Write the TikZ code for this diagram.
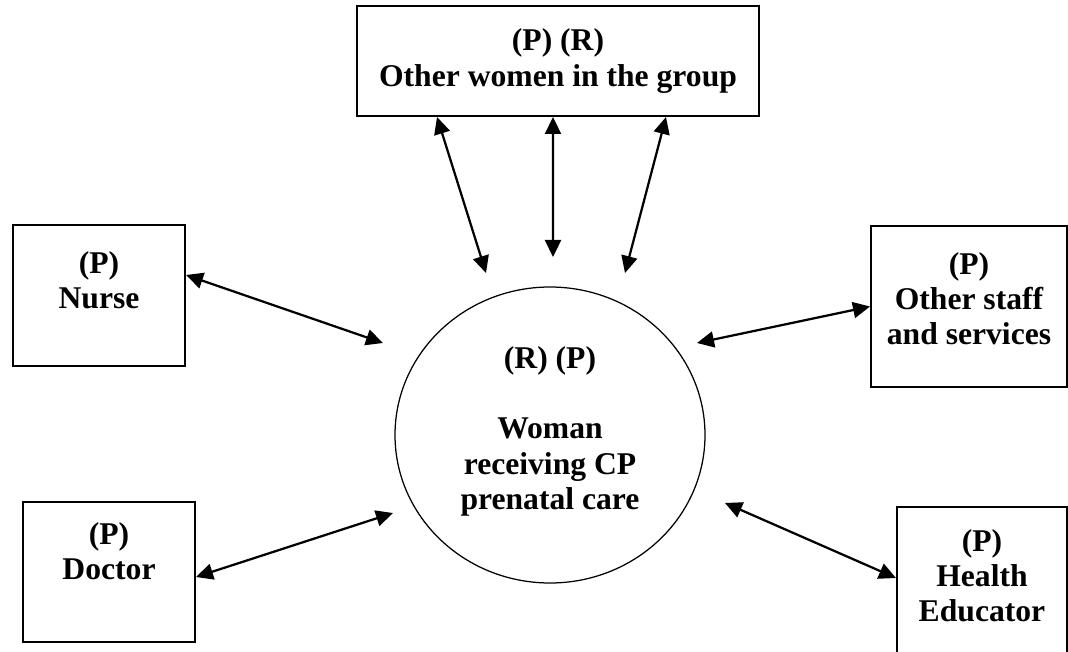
\documentclass[tikz,border=0pt]{standalone}
\usepackage{fontspec}
\setmainfont{Liberation Serif}
\usetikzlibrary{arrows.meta,positioning,shapes.geometric}
\tikzset{
  party/.style={rectangle, draw=black, line width=0.4mm},
  hub/.style  ={ellipse, draw=black, line width=0.25mm,
                minimum width=62mm, minimum height=59.2mm},
  lbl/.style  ={align=center, inner sep=0pt, font=\fontsize{18}{20}\selectfont\bfseries},
  ar/.style   ={{Triangle[length=3.4mm,width=3.2mm]}-{Triangle[length=3.4mm,width=3.2mm]},
                line width=0.45mm},
}

\begin{document}
\begin{tikzpicture}[x=0.2mm, y=-0.2mm]
\useasboundingbox (0,0) rectangle (1068,652);

\node[party, lbl, minimum width=80.4mm, minimum height=22mm] (group) at (558,61)
  {(P) (R)\\Other women in the group};

\node[hub] (woman) at (550,435) {};
\node[lbl, below=12mm of woman.north] (womantxt)
  {(R) (P)\\[20pt]Woman\\receiving CP\\prenatal care};

\node[party, minimum width=34.4mm, minimum height=28.2mm] (nurse) at (99,295.5) {};
\node[lbl, below=5.4mm of nurse.north] (nursetxt) {(P)\\Nurse};

\node[party, minimum width=34.4mm, minimum height=28mm] (doctor) at (109,572) {};
\node[lbl, below=4.2mm of doctor.north] (doctortxt) {(P)\\Doctor};

\node[party, minimum width=39.2mm, minimum height=32.2mm] (staff) at (969,306.5) {};
\node[lbl, below=5.4mm of staff.north] (stafftxt) {(P)\\Other staff\\and services};

\node[party, minimum width=34mm, minimum height=32.6mm] (educ) at (982,588.5) {};
\node[lbl, below=4.6mm of educ.north] (eductxt) {(P)\\Health\\Educator};

% free ends near the circle
\coordinate (wgl) at (486,273);
\coordinate (wgm) at (553,257);
\coordinate (wgr) at (625,273);
\coordinate (wn)  at (383,343);
\coordinate (ws)  at (697,343);
\coordinate (wd)  at (393,513);
\coordinate (we)  at (725,503);

\draw[ar] ([xshift=-24.2mm]group.south) -- (wgl);
\draw[ar] ([xshift=-1mm]group.south) -- (wgm);
\draw[ar] ([xshift=21.6mm]group.south) -- (wgr);
\draw[ar] ([yshift=4.1mm]nurse.east) -- (wn);
\draw[ar] (staff.west) -- (ws);
\draw[ar] ([yshift=-1mm]doctor.east) -- (wd);
\draw[ar] ([yshift=2.1mm]educ.west) -- (we);
\end{tikzpicture}
\end{document}
